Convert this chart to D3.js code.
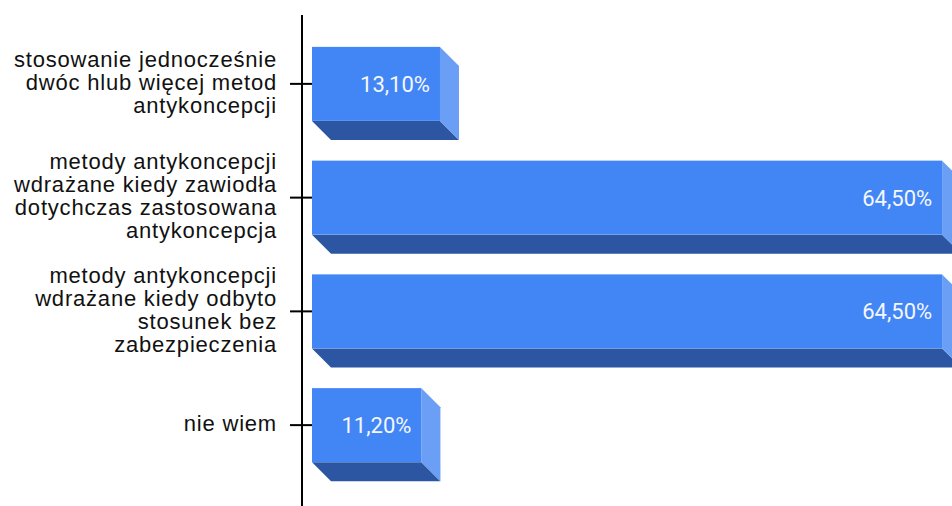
<!DOCTYPE html>
<html>
<head>
<meta charset="utf-8">
<script src="https://cdn.jsdelivr.net/npm/d3@7"></script>
<style>
  html, body { margin: 0; padding: 0; background: #ffffff; }
  svg { display: block; }
</style>
</head>
<body>
<svg id="chart" width="952" height="506"></svg>
<script>
// Categories (each label split into its printed lines) and their shares in percent
const categories = [
  ["stosowanie jednocześnie", "dwóc hlub więcej metod", "antykoncepcji"],
  ["metody antykoncepcji", "wdrażane kiedy zawiodła", "dotychczas zastosowana", "antykoncepcja"],
  ["metody antykoncepcji", "wdrażane kiedy odbyto", "stosunek bez", "zabezpieczenia"],
  ["nie wiem"]
];
const values = [13.1, 64.5, 64.5, 11.2];
const valueLabels = ["13,10%", "64,50%", "64,50%", "11,20%"];

const W = 952, H = 506;
const axisX = 302;       // vertical axis position
const barStart = 312;    // bars begin a little right of the axis
const depth = 19;        // 3D extrusion offset
const lineH = 23;        // label line spacing

const svg = d3.select("#chart");

const keys = categories.map((c, i) => i);
const pIn = 1 - 74 / 113.75;
const y = d3.scaleBand()
  .domain(keys)
  .range([27, 482])
  .paddingInner(pIn)
  .paddingOuter(pIn / 2);

const x = d3.scaleLinear()
  .domain([0, 65])
  .range([barStart, 947]);

const colFront = "#4285f4";
const colBottom = "#2c56a1";
const colSide = "#6b9ff5";

const bars = svg.append("g").selectAll("g")
  .data(keys)
  .join("g");

// bottom (shadow) face
bars.append("path")
  .attr("fill", colBottom)
  .attr("d", i => {
    const x0 = x(0), x1 = x(values[i]), yb = y(i) + y.bandwidth();
    return `M${x0},${yb}L${x1},${yb}L${x1 + depth},${yb + depth}L${x0 + depth},${yb + depth}Z`;
  });

// right side face
bars.append("path")
  .attr("fill", colSide)
  .attr("d", i => {
    const x1 = x(values[i]), yt = y(i), yb = y(i) + y.bandwidth();
    return `M${x1},${yt}L${x1 + depth},${yt + depth}L${x1 + depth},${yb + depth}L${x1},${yb}Z`;
  });

// front face
bars.append("rect")
  .attr("fill", colFront)
  .attr("x", x(0))
  .attr("y", i => y(i))
  .attr("width", i => x(values[i]) - x(0))
  .attr("height", y.bandwidth());

// value labels inside the front face
bars.append("text")
  .attr("x", i => x(values[i]) - 10)
  .attr("y", i => y(i) + y.bandwidth() / 2)
  .attr("dy", "0.36em")
  .attr("text-anchor", "end")
  .attr("fill", "#f4f7ff")
  .style("font-family", "Roboto, 'Noto Sans', sans-serif")
  .style("font-size", "22px")
  .text(i => valueLabels[i]);

// axis: vertical line plus ticks crossing it at each band centre
const axis = svg.append("g");
axis.append("line")
  .attr("x1", axisX).attr("x2", axisX)
  .attr("y1", 15).attr("y2", H)
  .attr("stroke", "#000").attr("stroke-width", 2);

axis.selectAll("line.tick")
  .data(keys)
  .join("line")
  .attr("class", "tick")
  .attr("x1", 290).attr("x2", barStart)
  .attr("y1", i => y(i) + y.bandwidth() / 2)
  .attr("y2", i => y(i) + y.bandwidth() / 2)
  .attr("stroke", "#000").attr("stroke-width", 2);

// multi-line category labels, right-aligned, centred on each tick
const labels = svg.append("g")
  .selectAll("text")
  .data(keys)
  .join("text")
  .attr("text-anchor", "end")
  .attr("fill", "#111111")
  .style("font-family", "'Liberation Sans', Arial, sans-serif")
  .style("font-size", "22px")
  .style("letter-spacing", "0.8px");

labels.each(function (i) {
  const lines = categories[i];
  const cy = y(i) + y.bandwidth() / 2;
  d3.select(this).selectAll("tspan")
    .data(lines)
    .join("tspan")
    .attr("x", 277)
    .attr("y", (d, j) => cy + (j - (lines.length - 1) / 2) * lineH + 6)
    .text(d => d);
});
</script>
</body>
</html>
